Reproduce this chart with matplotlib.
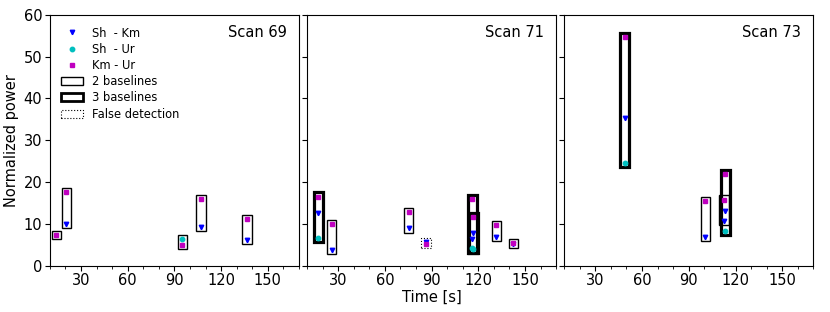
import numpy as np
import matplotlib
matplotlib.use("Agg")
import matplotlib.pyplot as plt
from matplotlib.patches import Rectangle
from matplotlib.lines import Line2D
from matplotlib.ticker import MultipleLocator

nan = np.nan

# detections per scan: time, power on each baseline, number of baselines (0 = false detection)
scans = ["Scan 69", "Scan 71", "Scan 73"]

times69 = [14.3, 20.7, 95.0, 107.0, 136.5]
shkm69 = [nan, 9.9, nan, 9.3, 6.1]
shur69 = [nan, nan, 6.4, nan, nan]
kmur69 = [7.3, 17.5, 4.9, 15.9, 11.1]
kind69 = [2, 2, 2, 2, 2]

times71 = [17.3, 25.8, 75.2, 86.5, 116.2, 116.8, 131.6, 142.5]
shkm71 = [12.5, 3.7, 8.9, 5.6, 6.3, 7.7, 6.8, 5.1]
shur71 = [6.7, nan, nan, nan, 4.1, 3.9, nan, nan]
kmur71 = [16.5, 10.0, 12.8, 5.1, 15.9, 11.6, 9.7, 5.4]
kind71 = [3, 2, 2, 0, 3, 3, 2, 2]

times73 = [48.9, 100.6, 113.4, 112.6]
shkm73 = [35.3, 6.8, 13.1, 10.7]
shur73 = [24.6, nan, 8.3, nan]
kmur73 = [54.8, 15.5, 21.9, 15.8]
kind73 = [3, 2, 3, 2]

data = [
    (times69, shkm69, shur69, kmur69, kind69),
    (times71, shkm71, shur71, kmur71, kind71),
    (times73, shkm73, shur73, kmur73, kind73),
]

box_w = 6.0
pad = 1.0
box_style = {2: dict(lw=1.0, ls="-"), 3: dict(lw=2.3, ls="-"), 0: dict(lw=0.8, ls=":")}
ms = 3.2

fig, axes = plt.subplots(1, 3, figsize=(8.3, 3.12), dpi=100, sharey=True)
fig.subplots_adjust(left=0.06, right=0.98, bottom=0.149, top=0.952, wspace=0.032)

for ax, name, (t, a, b, c, k) in zip(axes, scans, data):
    t = np.array(t)
    vals = np.vstack([a, b, c])
    for i in range(len(t)):
        lo = np.nanmin(vals[:, i]) - pad
        hi = np.nanmax(vals[:, i]) + pad
        st = box_style[k[i]]
        ax.add_patch(Rectangle((t[i] - box_w / 2, lo), box_w, hi - lo,
                               fill=False, edgecolor="k", lw=st["lw"], ls=st["ls"], zorder=2))
    ax.plot(t, a, "v", color="b", ms=ms, ls="none", zorder=3)
    ax.plot(t, b, "o", color="c", ms=ms, ls="none", zorder=3)
    ax.plot(t, c, "s", color="m", ms=ms, ls="none", zorder=3)
    ax.text(0.95, 0.932, name, transform=ax.transAxes, ha="right", va="center", fontsize=10.5)
    ax.set_xlim(10, 170)
    ax.set_ylim(0, 60)
    ax.set_xticks([30, 60, 90, 120, 150])
    ax.xaxis.set_minor_locator(MultipleLocator(10))
    ax.set_yticks(range(0, 61, 10))
    ax.tick_params(labelsize=10.5, pad=2)

axes[0].set_ylabel("Normalized power", fontsize=10.5, labelpad=3)
axes[1].set_xlabel("Time [s]", fontsize=10.5, labelpad=1)

handles = [
    Line2D([], [], marker="v", color="b", ls="none", ms=ms),
    Line2D([], [], marker="o", color="c", ls="none", ms=ms),
    Line2D([], [], marker="s", color="m", ls="none", ms=ms),
    Rectangle((0, 0), 1, 1, fill=False, edgecolor="k", lw=1.0),
    Rectangle((0, 0), 1, 1, fill=False, edgecolor="k", lw=2.0),
    Rectangle((0, 0), 1, 1, fill=False, edgecolor="k", lw=0.8, ls=":"),
]
labels = ["Sh  - Km", "Sh  - Ur", "Km - Ur", "2 baselines", "3 baselines", "False detection"]
axes[0].legend(handles, labels, loc="upper left", frameon=False, fontsize=8.3,
               labelspacing=0.28, handlelength=1.9, borderaxespad=0.6)

fig.savefig("out.png", dpi=100)
